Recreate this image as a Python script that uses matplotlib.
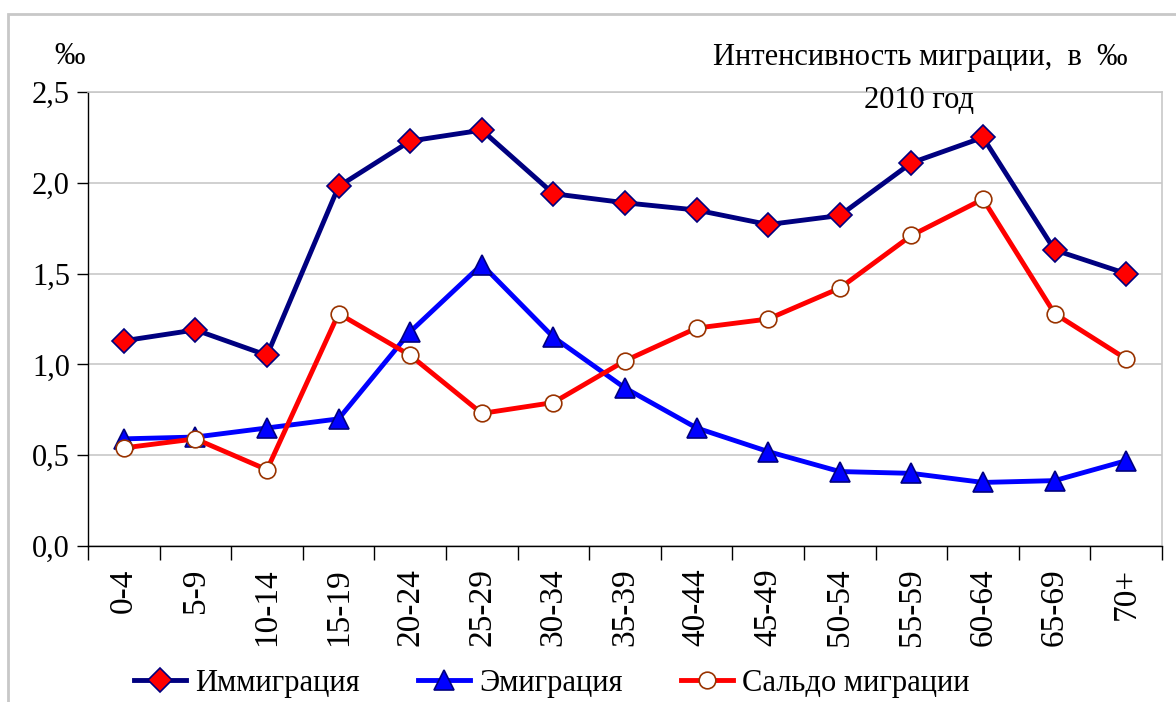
import numpy as np
import matplotlib
matplotlib.use("Agg")
import matplotlib.pyplot as plt
from matplotlib.patches import Rectangle

plt.rcParams['font.family'] = ['Liberation Serif', 'DejaVu Serif']

ages = ['0-4', '5-9', '10-14', '15-19', '20-24', '25-29', '30-34', '35-39',
        '40-44', '45-49', '50-54', '55-59', '60-64', '65-69', '70+']
immigr = [1.13, 1.19, 1.05, 1.98, 2.23, 2.29, 1.94, 1.89, 1.85, 1.77, 1.82, 2.11, 2.25, 1.63, 1.50]
emigr = [0.59, 0.60, 0.65, 0.70, 1.18, 1.55, 1.15, 0.87, 0.65, 0.52, 0.41, 0.40, 0.35, 0.36, 0.47]
saldo = [0.54, 0.59, 0.42, 1.28, 1.05, 0.73, 0.79, 1.02, 1.20, 1.25, 1.42, 1.71, 1.91, 1.28, 1.03]

fs = 22
fig = plt.figure(figsize=(11.76, 7.02), dpi=100)
ax = fig.add_axes([88/1176, 1 - 546/702, (1162-88)/1176, (546-92)/702])

x = np.arange(len(ages))
l1, = ax.plot(x, immigr, color='#000080', lw=3.5, marker='D', ms=12,
              mfc='red', mec='#000080', mew=1.2, zorder=5)
l2, = ax.plot(x, emigr, color='#0000FF', lw=3.5, marker='^', ms=15,
              mfc='#0000FF', mec='#000080', mew=1.2, zorder=4)
l3, = ax.plot(x, saldo, color='#FF0000', lw=3.5, marker='o', ms=12,
              mfc='white', mec='#993300', mew=1.2, zorder=6)

ax.set_xlim(-0.5, len(ages) - 0.5)
ax.set_ylim(0, 2.5)
yt = np.arange(0, 2.51, 0.5)
ax.set_yticks(yt)
ax.set_yticklabels([('%.1f' % v).replace('.', ',') for v in yt], fontsize=22)
ax.set_xticks(np.arange(-0.5, len(ages), 1))
ax.set_xticklabels([])
ax.set_xticks(x, minor=True)
ax.set_xticklabels(ages, minor=True, rotation=90, fontsize=24)
ax.tick_params(axis='x', which='minor', length=0, pad=16)
ax.tick_params(axis='x', which='major', length=10, direction='out', width=1)
ax.tick_params(axis='y', length=8, direction='out', width=1, pad=5)
ax.grid(axis='y', color='#c8c8c8', lw=1.2)
ax.set_axisbelow(True)
for s in ['top', 'right']:
    ax.spines[s].set_color('#c8c8c8')
    ax.spines[s].set_linewidth(1.2)
for s in ['left', 'bottom']:
    ax.spines[s].set_color('black')
    ax.spines[s].set_linewidth(1)

fig.text(920/1176, 1 - 57/702, 'Интенсивность миграции,  в  ‰', ha='center', va='center', fontsize=fs)
fig.text(919/1176, 1 - 100/702, '2010 год', ha='center', va='center', fontsize=fs)
fig.text(70/1176, 1 - 57/702, '‰', ha='center', va='center', fontsize=fs)

fig.legend([l1, l2, l3], ['Иммиграция', 'Эмиграция', 'Сальдо миграции'],
           loc='center', bbox_to_anchor=(552/1176, 1 - 683/702), ncol=3,
           frameon=False, fontsize=fs, handlelength=1.7, handletextpad=0.3,
           columnspacing=1.9, borderpad=0)

fig.patches.append(Rectangle((8/1176, -0.05), 1.2, 1 - 14/702 + 0.05, transform=fig.transFigure,
                             fill=False, edgecolor='#c8c8c8', lw=2, zorder=0))

fig.savefig('out.png', dpi=100)
